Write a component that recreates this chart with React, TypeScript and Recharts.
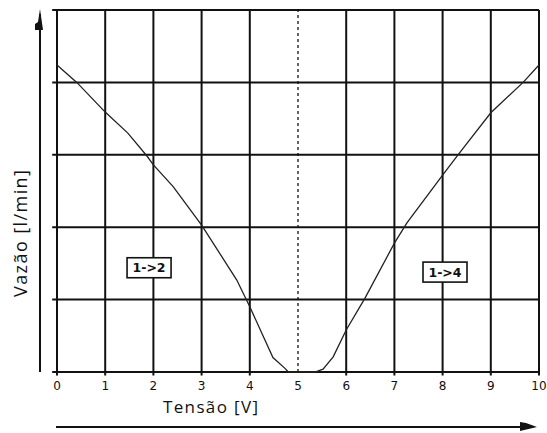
import React from 'react';
import { LineChart, Line, XAxis, YAxis, ReferenceLine, ReferenceDot } from 'recharts';

// valve characteristic: flow vs. control voltage
const voltage = [0, 0.41, 1, 1.47, 1.87, 2, 2.41, 3, 3.73, 4, 4.48, 4.73, 4.8, 5.35, 5.52, 5.73, 6, 6.39, 7, 7.26, 8, 8.32, 9, 9.67, 10];
const flow = [4.24, 4.0, 3.59, 3.3, 2.98, 2.86, 2.56, 2.03, 1.27, 0.9, 0.2, 0.05, 0, 0, 0.04, 0.21, 0.58, 1.02, 1.78, 2.06, 2.72, 3.0, 3.58, 4.0, 4.24];

const xTicks = [0, 1, 2, 3, 4, 5, 6, 7, 8, 9, 10];
const yLevels = [0, 1, 2, 3, 4, 5];

const flowLabels = [
  { text: '1->2', x: 1.91, y: 1.44 },
  { text: '1->4', x: 8.05, y: 1.38 },
];

const data = voltage.map((v, i) => ({ v, q: flow[i] }));

const INK = '#111';

const LabelBox = ({ cx, cy, text }: any) => (
  <g>
    <rect x={cx - 22} y={cy - 10} width={44} height={20} fill="#fff" stroke={INK} strokeWidth={1.6} />
    <text x={cx} y={cy + 4.5} textAnchor="middle" fontFamily="DejaVu Sans" fontSize={12.5} fontWeight="bold" fill={INK}>
      {text}
    </text>
  </g>
);

export default function App() {
  return (
    <div style={{ position: 'absolute', left: 0, top: 0, width: 547, height: 433, background: '#fff' }}>
      <LineChart width={547} height={433} data={data} margin={{ top: 10, right: 8, bottom: 31, left: 57 }}>
        <XAxis
          dataKey="v"
          type="number"
          domain={[0, 10]}
          ticks={xTicks}
          height={30}
          axisLine={false}
          tickLine={false}
          tick={{ fill: INK, fontSize: 12, fontFamily: 'DejaVu Sans', dy: 1 }}
        />
        <YAxis type="number" domain={[0, 5]} hide />
        {yLevels.map((y) => (
          <ReferenceLine
            key={`h-${y}`}
            segment={[{ x: -0.1, y }, { x: 10, y }]}
            stroke={INK}
            strokeWidth={2}
            ifOverflow="visible"
          />
        ))}
        {xTicks.filter((t) => t !== 5).map((x) => (
          <ReferenceLine
            key={`v-${x}`}
            segment={[{ x, y: -0.05 }, { x, y: 5 }]}
            stroke={INK}
            strokeWidth={2}
            ifOverflow="visible"
          />
        ))}
        <ReferenceLine x={5} stroke={INK} strokeWidth={1.3} strokeDasharray="3 3" />
        <Line
          dataKey="q"
          type="linear"
          stroke="#222"
          strokeWidth={1.3}
          dot={false}
          isAnimationActive={false}
        />
        {flowLabels.map((l) => (
          <ReferenceDot
            key={l.text}
            x={l.x}
            y={l.y}
            ifOverflow="visible"
            shape={(p: any) => <LabelBox {...p} text={l.text} />}
          />
        ))}
      </LineChart>
      <svg width={547} height={433} style={{ position: 'absolute', left: 0, top: 0, pointerEvents: 'none' }}>
        {/* axis arrows */}
        <line x1={40} y1={14} x2={40} y2={372} stroke={INK} strokeWidth={2} />
        <polygon points="40,9 43,30 35,30 35,24 38,22" fill={INK} />
        <line x1={56} y1={427} x2={530} y2={427} stroke={INK} strokeWidth={2} />
        <polygon points="537,427 520,431 520,422 526,423" fill={INK} />
        <text x={163} y={413} textLength={95} lengthAdjust="spacing" fontFamily="Open Sans" fontSize={17} fill={INK}>
          Tensão [V]
        </text>
        <text
          x={27}
          y={297}
          transform="rotate(-90 27 297)"
          textLength={127}
          lengthAdjust="spacing"
          fontFamily="Open Sans"
          fontSize={18}
          fill={INK}
        >
          Vazão [l/min]
        </text>
      </svg>
    </div>
  );
}
